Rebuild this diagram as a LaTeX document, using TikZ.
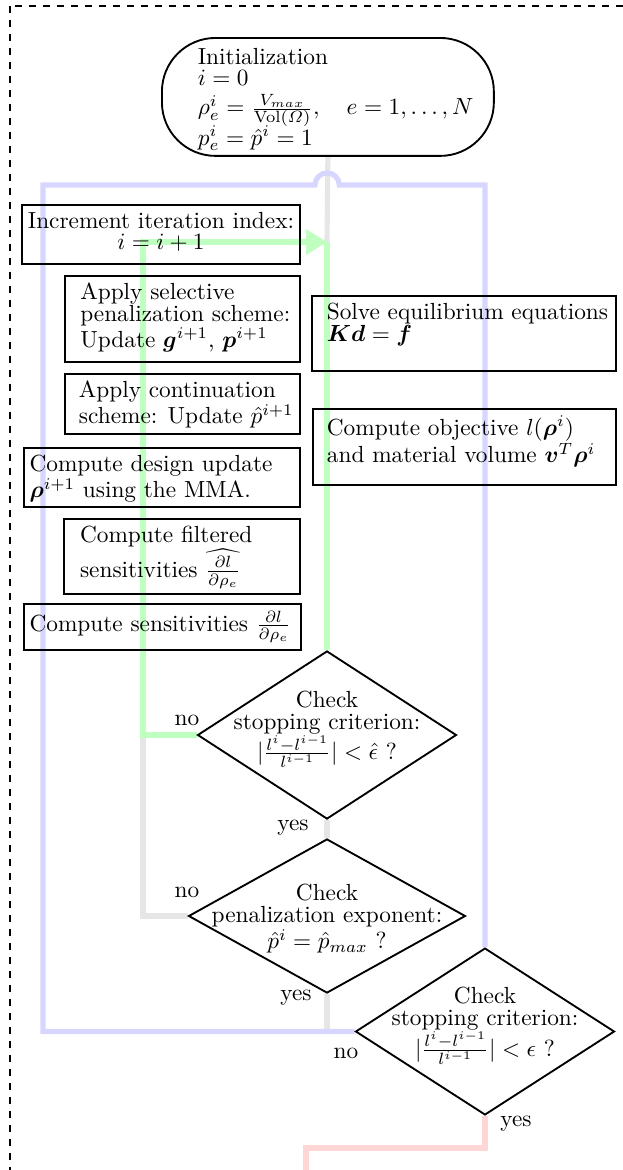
\documentclass[tikz,border=0pt]{standalone}
\usepackage{amsmath}
\usetikzlibrary{shapes.geometric,arrows.meta,backgrounds}
\definecolor{cBlue}{RGB}{214,214,255}
\definecolor{cGreen}{RGB}{191,255,191}
\definecolor{cGray}{RGB}{230,230,230}
\definecolor{cRed}{RGB}{255,214,214}
\newcommand\dtext[2][0pt]{\makebox[0pt]{\raisebox{#1}[0pt][0pt]{\begin{tabular}{@{}c@{}}#2\end{tabular}}}}
\hbadness=10000 \hfuzz=200pt
\begin{document}
\begin{tikzpicture}[x=0.429pt,y=-0.429pt,
  every node/.style={font=\fontsize{10pt}{9.3pt}\selectfont},
  box/.style={draw,line width=0.8pt,anchor=north west,inner ysep=3pt},
  dia/.style={draw,diamond,line width=0.8pt,inner sep=0pt},
  lbl/.style={inner sep=0pt},
  conn/.style={line width=2.2pt},
  grayconn/.style={conn,draw=cGray},
  greenconn/.style={conn,draw=cGreen},
  blueconn/.style={conn,draw=cBlue},
  redconn/.style={conn,draw=cRed},
  frame/.style={dashed,line width=0.8pt}
]
\useasboundingbox (0,0) rectangle (623,1170);

% start node
\node[draw,line width=0.8pt,rounded corners=23pt,anchor=north west,
      minimum width=142.4pt,minimum height=50.6pt,inner xsep=15.4pt,inner ysep=4.3pt] (init) at (161,37)
  {\parbox[c][42pt][t]{111.6pt}{\raggedright \mbox{Initialization}\\
   \mbox{$i=0$}\\[3.2pt]
   \mbox{$\rho_e^i=\frac{V_{max}}{\mathrm{Vol}(\varOmega)},\quad e=1,\ldots,N$}\\[-1.5pt]
   \mbox{$p_e^i=\hat{p}^i=1$}}};

% left column
\node[box,inner xsep=2.4pt] (inc) at (21,204)
  {\parbox[c][19.3pt][t]{114.5pt}{\centering \mbox{Increment iteration index:}\\ $i=i+1$}};
\node[box,inner xsep=6.6pt] (sel) at (64,275)
  {\parbox[c][30.9pt][t]{87.6pt}{\raggedright \mbox{Apply selective}\\ \mbox{penalization scheme:}\\ \mbox{Update $\boldsymbol{g}^{i+1}$, $\boldsymbol{p}^{i+1}$}}};
\node[box,inner xsep=6.0pt] (cont) at (64,373)
  {\parbox[c][19.7pt][t]{88.8pt}{\raggedright \mbox{Apply continuation}\\ \mbox{scheme: Update $\hat{p}^{i+1}$}}};
\node[box,inner xsep=2.4pt] (mma) at (23,447)
  {\parbox[c][19.3pt][t]{113.6pt}{\raggedright \mbox{Compute design update}\\ \mbox{$\boldsymbol{\rho}^{i+1}$ using the MMA.}}};
\node[box,inner xsep=6.9pt] (filt) at (63,518)
  {\parbox[c][26.2pt][t]{87.4pt}{\raggedright \mbox{Compute filtered}\\ \mbox{sensitivities $\widehat{\frac{\partial l}{\partial \rho_e}}$}}};
\node[box,inner xsep=2.4pt] (sens) at (23,603)
  {\parbox{113.9pt}{\raggedright \mbox{Compute sensitivities $\frac{\partial l}{\partial \rho_e}$}}};

% right column
\node[box,inner xsep=6.4pt] (solve) at (311,295)
  {\parbox[c][26.2pt][t]{117.6pt}{\raggedright \mbox{Solve equilibrium equations}\\ \mbox{$\boldsymbol{K}\boldsymbol{d}=\boldsymbol{f}$}}};
\node[box,inner xsep=6.0pt] (obj) at (312,408)
  {\parbox[c][26.6pt][t]{118pt}{\raggedright \mbox{Compute objective $l(\boldsymbol{\rho}^i)$}\\ \mbox{and material volume $\boldsymbol{v}^T\boldsymbol{\rho}^i$}}};

% decisions
\node[dia,minimum width=111.1pt,minimum height=72.1pt] (D1) at (327,735)
  {\dtext{Check\\ stopping criterion:\\ $|\frac{l^i-l^{i-1}}{l^{i-1}}|<\hat{\epsilon}$ ?}};
\node[dia,minimum width=118.8pt,minimum height=66.1pt] (D2) at (327,916)
  {\dtext[-4pt]{Check\\ penalization exponent:\\ $\hat{p}^i=\hat{p}_{max}$ ?}};
\node[dia,minimum width=111.1pt,minimum height=71.6pt] (D3) at (485,1031.5)
  {\dtext[0pt]{Check\\ stopping criterion:\\ $|\frac{l^i-l^{i-1}}{l^{i-1}}|<\epsilon$ ?}};

% labels
\node[lbl] (noA) at (187,720) {no};
\node[lbl] (yesA) at (293,828) {yes};
\node[lbl] (noB) at (187,892) {no};
\node[lbl] (yesB) at (296,998) {yes};
\node[lbl] (noC) at (346,1053) {no};
\node[lbl] (yesC) at (516,1124) {yes};

% waypoints
\coordinate (gL) at (143,242);
\coordinate (gJ) at (327,242);
\coordinate (gM) at (143,735);
\coordinate (bJ) at (327,1032);
\coordinate (bL) at (43,185);
\coordinate (hopL) at (315,185);
\coordinate (rM) at (306,1148);
\coordinate (rE) at (306,1200);

\begin{scope}[on background layer]
  \draw[frame] (10,6) rectangle (680,1230);
  % gray
  \draw[grayconn] (init.south) -- (gJ);
  \draw[grayconn] (D1.south) -- (D2.north);
  \draw[grayconn] (D2.west) -| (gM);
  \draw[grayconn] (D2.south) -- (bJ);
  % green
  \draw[greenconn] (gJ) -- (D1.north);
  \draw[greenconn,-{Triangle[length=9pt,width=10.5pt]}] (D1.west) -| (gL) -- (gJ);
  % blue
  \draw[blueconn] (D3.west) -| (bL) -- (hopL)
     arc[start angle=180,end angle=0,radius=5.2pt] -| (D3.north);
  % red
  \draw[redconn] (D3.south) |- (rM) -- (rE);
\end{scope}
\end{tikzpicture}
\end{document}
